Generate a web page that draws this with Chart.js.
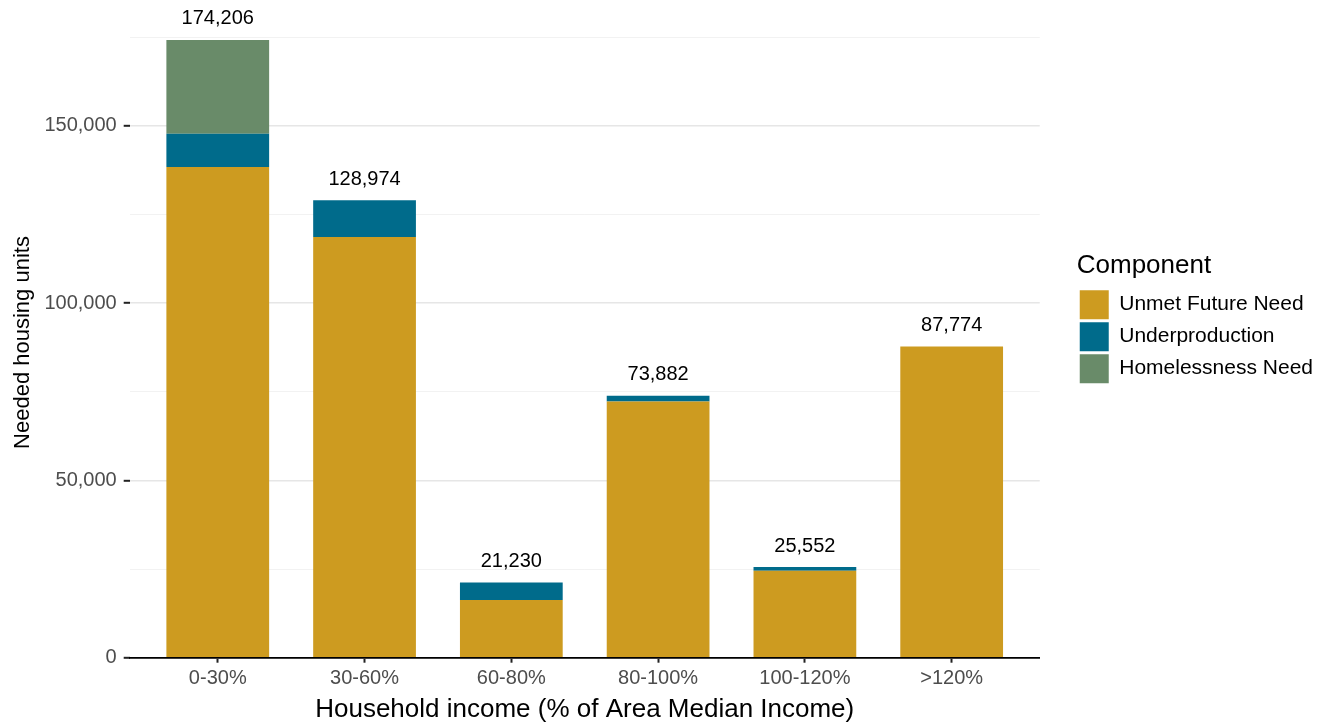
<!DOCTYPE html>
<html lang="en">
<head>
<meta charset="utf-8">
<title>Needed housing units by household income</title>
<script src="https://cdn.jsdelivr.net/npm/chart.js@4.4.1/dist/chart.umd.min.js"></script>
<style>
  body { margin: 0; background: #fff; }
  #wrap { width: 1328px; height: 723px; }
</style>
</head>
<body>
<div id="wrap"><canvas id="grafico" width="1328" height="723"></canvas></div>
<script>
// ===== DATA =====
const faixas = ["0-30%", "30-60%", "60-80%", "80-100%", "100-120%", ">120%"];
const unmetFuture = [138350, 118600, 16270, 72270, 24530, 87774];
const underproduction = [9390, 10374, 4960, 1612, 1022, 0];
const homelessness = [26466, 0, 0, 0, 0, 0];
const totais = [174206, 128974, 21230, 73882, 25552, 87774];

const yGrid = [0, 25000, 50000, 75000, 100000, 125000, 150000, 175000];
const yLabels = [0, 50000, 100000, 150000];
const yMax = 182916;

const FONTE = '"Liberation Sans", Arial, Helvetica, sans-serif';
Chart.defaults.font.family = FONTE;

function pontos(arr) {
    return arr.map((v, i) => ({ x: i, y: v }));
}

// ===== TOTAL LABELS ABOVE BARS =====
const rotulosTotais = {
    id: "rotulosTotais",
    afterDatasetsDraw(chart) {
        const { ctx, scales: { x, y } } = chart;
        ctx.save();
        ctx.font = "20px " + FONTE;
        ctx.fillStyle = "#000";
        ctx.textAlign = "center";
        ctx.textBaseline = "middle";
        totais.forEach((t, i) => {
            ctx.fillText(t.toLocaleString("en-US"), x.getPixelForValue(i), y.getPixelForValue(t) - 21);
        });
        ctx.restore();
    }
};

// ===== CHART =====
const ctx = document.getElementById("grafico").getContext("2d");

window.grafico = new Chart(ctx, {
    type: "bar",
    data: {
        datasets: [
            { label: "Unmet Future Need", data: pontos(unmetFuture), backgroundColor: "#cd9b20", borderWidth: 0 },
            { label: "Underproduction", data: pontos(underproduction), backgroundColor: "#006b8b", borderWidth: 0 },
            { label: "Homelessness Need", data: pontos(homelessness), backgroundColor: "#698b69", borderWidth: 0 }
        ]
    },
    options: {
        responsive: false,
        animation: false,
        devicePixelRatio: 1,
        barPercentage: 0.7,
        categoryPercentage: 1,
        layout: { padding: { top: 9, right: 5, bottom: 0, left: 10 } },
        plugins: {
            tooltip: { enabled: false },
            legend: {
                position: "right",
                align: "start",
                maxWidth: 320,
                title: {
                    display: true,
                    text: "Component",
                    color: "#000",
                    position: "start",
                    font: { size: 26 },
                    padding: { top: 244, bottom: 3 }
                },
                labels: {
                    boxWidth: 29,
                    boxHeight: 29,
                    padding: 3,
                    color: "#000",
                    font: { size: 21 }
                }
            }
        },
        scales: {
            x: {
                type: "linear",
                stacked: true,
                offset: false,
                min: -0.6,
                max: 5.6,
                afterBuildTicks: (s) => { s.ticks = faixas.map((f, i) => ({ value: i })); },
                ticks: {
                    autoSkip: false,
                    maxRotation: 0,
                    padding: 4,
                    color: "#4d4d4d",
                    font: { size: 20 },
                    callback: (v) => faixas[v]
                },
                grid: {
                    offset: false,
                    drawOnChartArea: false,
                    tickLength: 5,
                    tickColor: "#222",
                    tickWidth: 2
                },
                border: { display: true, color: "#000", width: 1.8 },
                title: {
                    display: true,
                    text: "Household income (% of Area Median Income)",
                    color: "#000",
                    font: { size: 26, lineHeight: 1.05 },
                    padding: { top: 1, bottom: 0 }
                }
            },
            y: {
                stacked: true,
                min: 0,
                max: yMax,
                afterBuildTicks: (s) => { s.ticks = yGrid.map((v) => ({ value: v })); },
                afterFit: (s) => { s.paddingTop = 0; s.paddingBottom = 0; },
                ticks: {
                    padding: 7,
                    color: "#4d4d4d",
                    font: { size: 20 },
                    callback: (v) => yLabels.includes(v) ? v.toLocaleString("en-US") : ""
                },
                grid: {
                    tickLength: 6,
                    tickWidth: 2,
                    color: (c) => yLabels.includes(c.tick.value) ? "#e6e6e6" : "#f1f1f1",
                    lineWidth: (c) => yLabels.includes(c.tick.value) ? 1.6 : 0.9,
                    tickColor: (c) => yLabels.includes(c.tick.value) ? "#222" : "rgba(0,0,0,0)"
                },
                border: { display: false },
                title: {
                    display: true,
                    // trailing spaces nudge the rotated title a bit lower, like the original
                    text: "Needed housing units   ",
                    color: "#000",
                    font: { size: 22 },
                    padding: { top: 0, bottom: 1 }
                }
            },
            espaco: {
                type: "linear",
                axis: "y",
                position: "right",
                display: true,
                grid: { display: false },
                ticks: { display: false },
                border: { display: false },
                afterFit: (s) => { s.width = 37; }
            }
        }
    },
    plugins: [rotulosTotais]
});
</script>
</body>
</html>
